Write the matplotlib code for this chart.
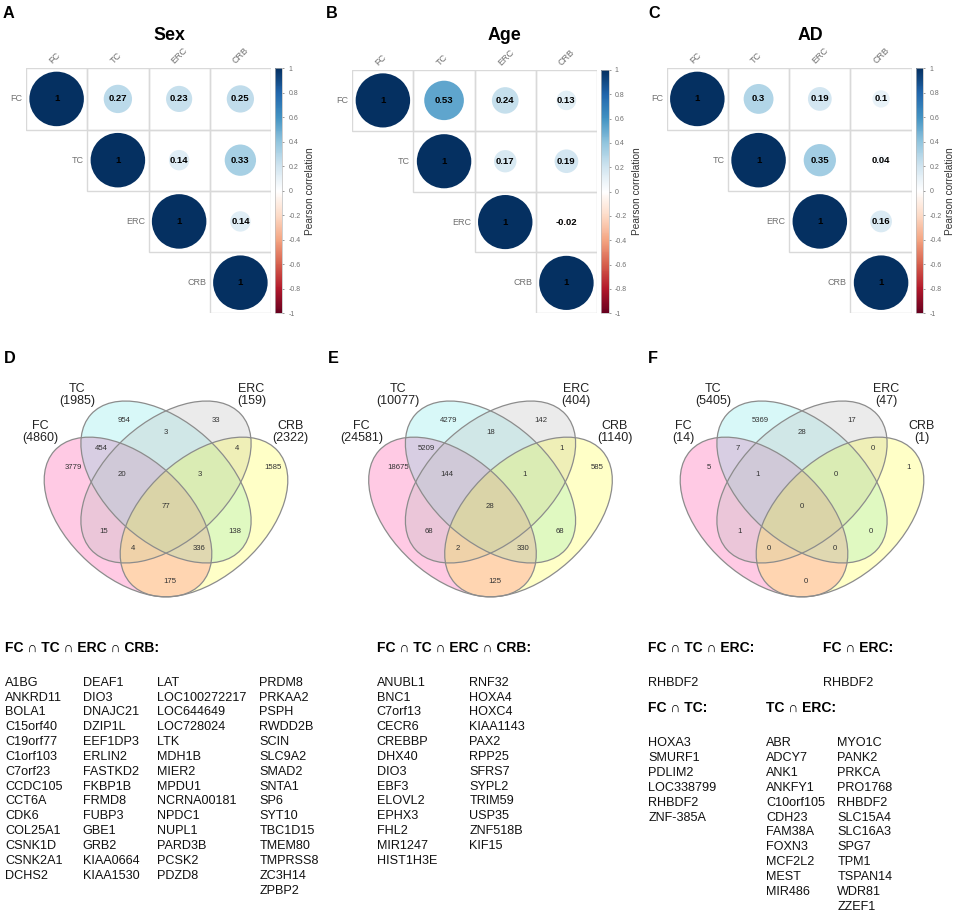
import matplotlib
matplotlib.use('Agg')
import matplotlib.pyplot as plt
from matplotlib.patches import Circle, Ellipse, Rectangle
from matplotlib.colors import LinearSegmentedColormap, Normalize
from matplotlib.cm import ScalarMappable
import numpy as np

W, H = 957, 916
plt.rcParams['font.family'] = ['Liberation Sans', 'DejaVu Sans']

# ---- data ----
regions = ['FC', 'TC', 'ERC', 'CRB']
# upper triangle order: FC-TC, FC-ERC, FC-CRB, TC-ERC, TC-CRB, ERC-CRB
sex_r = [0.27, 0.23, 0.25, 0.14, 0.33, 0.14]
age_r = [0.53, 0.24, 0.13, 0.17, 0.19, -0.02]
ad_r = [0.3, 0.19, 0.1, 0.35, 0.04, 0.16]
cbar_ticks = [1, 0.8, 0.6, 0.4, 0.2, 0, -0.2, -0.4, -0.6, -0.8, -1]

# venn region order
venn_keys = ['FC', 'TC', 'ERC', 'CRB', 'FC&TC', 'TC&ERC', 'ERC&CRB', 'FC&TC&ERC',
             'TC&ERC&CRB', 'ALL', 'FC&ERC', 'TC&CRB', 'FC&ERC&CRB', 'FC&TC&CRB', 'FC&CRB']
sex_sizes = [4860, 1985, 159, 2322]
age_sizes = [24581, 10077, 404, 1140]
ad_sizes = [14, 5405, 47, 1]
sex_counts = [3779, 954, 33, 1585, 454, 3, 4, 20, 3, 77, 15, 138, 4, 336, 175]
age_counts = [18675, 4279, 142, 585, 5209, 18, 1, 144, 1, 28, 68, 68, 2, 330, 125]
ad_counts = [5, 5369, 17, 1, 7, 28, 0, 1, 0, 0, 1, 0, 0, 0, 0]

sex_genes = [
    ['A1BG', 'ANKRD11', 'BOLA1', 'C15orf40', 'C19orf77', 'C1orf103', 'C7orf23', 'CCDC105',
     'CCT6A', 'CDK6', 'COL25A1', 'CSNK1D', 'CSNK2A1', 'DCHS2'],
    ['DEAF1', 'DIO3', 'DNAJC21', 'DZIP1L', 'EEF1DP3', 'ERLIN2', 'FASTKD2', 'FKBP1B',
     'FRMD8', 'FUBP3', 'GBE1', 'GRB2', 'KIAA0664', 'KIAA1530'],
    ['LAT', 'LOC100272217', 'LOC644649', 'LOC728024', 'LTK', 'MDH1B', 'MIER2', 'MPDU1',
     'NCRNA00181', 'NPDC1', 'NUPL1', 'PARD3B', 'PCSK2', 'PDZD8'],
    ['PRDM8', 'PRKAA2', 'PSPH', 'RWDD2B', 'SCIN', 'SLC9A2', 'SMAD2', 'SNTA1', 'SP6',
     'SYT10', 'TBC1D15', 'TMEM80', 'TMPRSS8', 'ZC3H14', 'ZPBP2'],
]
age_genes = [
    ['ANUBL1', 'BNC1', 'C7orf13', 'CECR6', 'CREBBP', 'DHX40', 'DIO3', 'EBF3', 'ELOVL2',
     'EPHX3', 'FHL2', 'MIR1247', 'HIST1H3E'],
    ['RNF32', 'HOXA4', 'HOXC4', 'KIAA1143', 'PAX2', 'RPP25', 'SFRS7', 'SYPL2', 'TRIM59',
     'USP35', 'ZNF518B', 'KIF15'],
]
ad_fc_tc_erc = ['RHBDF2']
ad_fc_erc = ['RHBDF2']
ad_fc_tc = ['HOXA3', 'SMURF1', 'PDLIM2', 'LOC338799', 'RHBDF2', 'ZNF-385A']
ad_tc_erc = [
    ['ABR', 'ADCY7', 'ANK1', 'ANKFY1', 'C10orf105', 'CDH23', 'FAM38A', 'FOXN3', 'MCF2L2',
     'MEST', 'MIR486'],
    ['MYO1C', 'PANK2', 'PRKCA', 'PRO1768', 'RHBDF2', 'SLC15A4', 'SLC16A3', 'SPG7', 'TPM1',
     'TSPAN14', 'WDR81', 'ZZEF1'],
]

cmap = LinearSegmentedColormap.from_list('corr', [
    '#67001F', '#B2182B', '#D6604D', '#F4A582', '#FDDBC7', '#FFFFFF',
    '#D1E5F0', '#92C5DE', '#4393C3', '#2166AC', '#053061'])
norm = Normalize(-1, 1)

fig = plt.figure(figsize=(W / 100, H / 100), dpi=100)


def box(l, t, w, h):
    return [l / W, 1 - (t + h) / H, w / W, h / H]


def ftext(x, y, s, **kw):
    fig.text(x / W, 1 - y / H, s, **kw)


def corrplot(left, top, w, h, vals, title, title_x, letter, letter_x, cb_left, lab_x):
    ax = fig.add_axes(box(left, top, w, h))
    ax.set_xlim(0, 4)
    ax.set_ylim(4, 0)
    ax.axis('off')
    mat = np.eye(4)
    k = 0
    for i in range(4):
        for j in range(i + 1, 4):
            mat[i, j] = vals[k]
            k += 1
    for i in range(4):
        for j in range(i, 4):
            ax.add_patch(Rectangle((j, i), 1, 1, fill=False, ec='#d9d9d9', lw=1.0))
            r = mat[i, j]
            ax.add_patch(Circle((j + 0.5, i + 0.5), 0.445 * np.sqrt(abs(r)),
                                fc=cmap(norm(r)), ec='none'))
            ax.text(j + 0.5, i + 0.5, f'{r:g}', ha='center', va='center',
                    fontsize=6.8, fontweight='bold', color='black')
        ax.text(i - 0.06, i + 0.5, regions[i], ha='right', va='center',
                fontsize=6.5, color='#707070')
        ax.text(i + 0.45, -0.04, regions[i], ha='left', va='bottom', rotation=45,
                rotation_mode='anchor', fontsize=6.5, color='#707070')
    cax = fig.add_axes(box(cb_left, top, 7.5, h))
    cb = fig.colorbar(ScalarMappable(norm=norm, cmap=cmap), cax=cax)
    cb.set_ticks(cbar_ticks)
    cb.set_ticklabels([f'{t:g}' for t in cbar_ticks])
    cax.tick_params(labelsize=5, colors='#707070', length=1.5, width=0.5, pad=3)
    cb.outline.set_edgecolor('#bbbbbb')
    cb.outline.set_linewidth(0.5)
    ftext(lab_x, 191, 'Pearson correlation', rotation=90, ha='center', va='center',
          fontsize=7.3, color='#333333')
    ftext(title_x, 35, title, ha='center', va='center', fontsize=12.8, fontweight='bold')
    ftext(letter_x, 14, letter, ha='left', va='center', fontsize=11.7, fontweight='bold')


corrplot(26, 68.3, 245, 245, sex_r, 'Sex', 169, 'A', 3, 275, 310)
corrplot(352.3, 70, 244.7, 243.3, age_r, 'Age', 504, 'B', 326, 601, 637)
corrplot(666.7, 68.3, 245, 245, ad_r, 'AD', 810, 'C', 648, 915.7, 950)

# ---- venn diagrams ----
ell_fill = ['#FF69B4', '#40E0E0', '#C0C0C0', '#FFFF00']
ell_alpha = [0.35, 0.2, 0.3, 0.22]
ell_geom = [(-38, 517, 99, 60, 42), (0, 482, 101, 60, 42),
            (0, 482, 101, 60, -42), (38, 517, 99, 60, -42)]
count_pos = [(-92.7, 467.7), (-42, 420), (50, 420), (107, 467.7), (-64.3, 449), (0, 433),
             (70.7, 449), (-44, 475), (34, 475), (0, 506.7), (-62, 531.7), (69, 531.7),
             (-33, 549), (33, 549), (4, 581.7)]
label_pos = [(-107.5, 432, 'right'), (-71, 395, 'right'), (71, 395, 'left'), (106.5, 432, 'left')]


def venn(cx, sizes, counts, letter, letter_x):
    ax = fig.add_axes(box(cx - 150, 360, 300, 260))
    ax.set_xlim(-150, 150)
    ax.set_ylim(620, 360)
    ax.axis('off')
    for (x, y, a, b, ang), c, al in zip(ell_geom, ell_fill, ell_alpha):
        ax.add_patch(Ellipse((x, y), 2 * a, 2 * b, angle=ang, fc=c, alpha=al, ec='none'))
    for (x, y, a, b, ang) in ell_geom:
        ax.add_patch(Ellipse((x, y), 2 * a, 2 * b, angle=ang, fill=False,
                             ec='#8c8c8c', lw=0.9))
    for (x, y), n in zip(count_pos, counts):
        ax.text(x, y, str(n), ha='center', va='center', fontsize=5.6, color='#333333')
    for (x, y, ha), name, n in zip(label_pos, regions, sizes):
        ax.text(x, y, f'{name}\n({n})', ha=ha, va='center', multialignment='center',
                fontsize=9, color='#222222', linespacing=1.05)
    ftext(letter_x, 358, letter, ha='left', va='center', fontsize=11.7, fontweight='bold')


venn(166, sex_sizes, sex_counts, 'D', 4)
venn(490.5, age_sizes, age_counts, 'E', 328)
venn(802, ad_sizes, ad_counts, 'F', 648)

# ---- gene lists ----
HEAD = dict(ha='left', va='center', fontsize=10, fontweight='bold')
GENE = dict(ha='left', va='center', fontsize=9.1, color='#111111')
step = 14.85


def gene_cols(cols, xs, y0):
    for col, x in zip(cols, xs):
        for k, g in enumerate(col):
            ftext(x, y0 + k * step, g, **GENE)


ftext(5, 648.3, 'FC \u2229 TC \u2229 ERC \u2229 CRB:', **HEAD)
gene_cols(sex_genes, [5, 82.7, 157.3, 259.3], 682.7)

ftext(376.7, 648.3, 'FC \u2229 TC \u2229 ERC \u2229 CRB:', **HEAD)
gene_cols(age_genes, [376.7, 469.3], 682.7)

ftext(648.3, 648.3, 'FC \u2229 TC \u2229 ERC:', **HEAD)
gene_cols([ad_fc_tc_erc], [648.3], 682.7)
ftext(822.7, 648.3, 'FC \u2229 ERC:', **HEAD)
gene_cols([ad_fc_erc], [822.7], 682.7)
ftext(648.3, 708.3, 'FC \u2229 TC:', **HEAD)
gene_cols([ad_fc_tc], [648.3], 743.3)
ftext(766, 708.3, 'TC \u2229 ERC:', **HEAD)
gene_cols(ad_tc_erc, [766, 837.3], 743.3)

fig.savefig('out.png', dpi=100)
